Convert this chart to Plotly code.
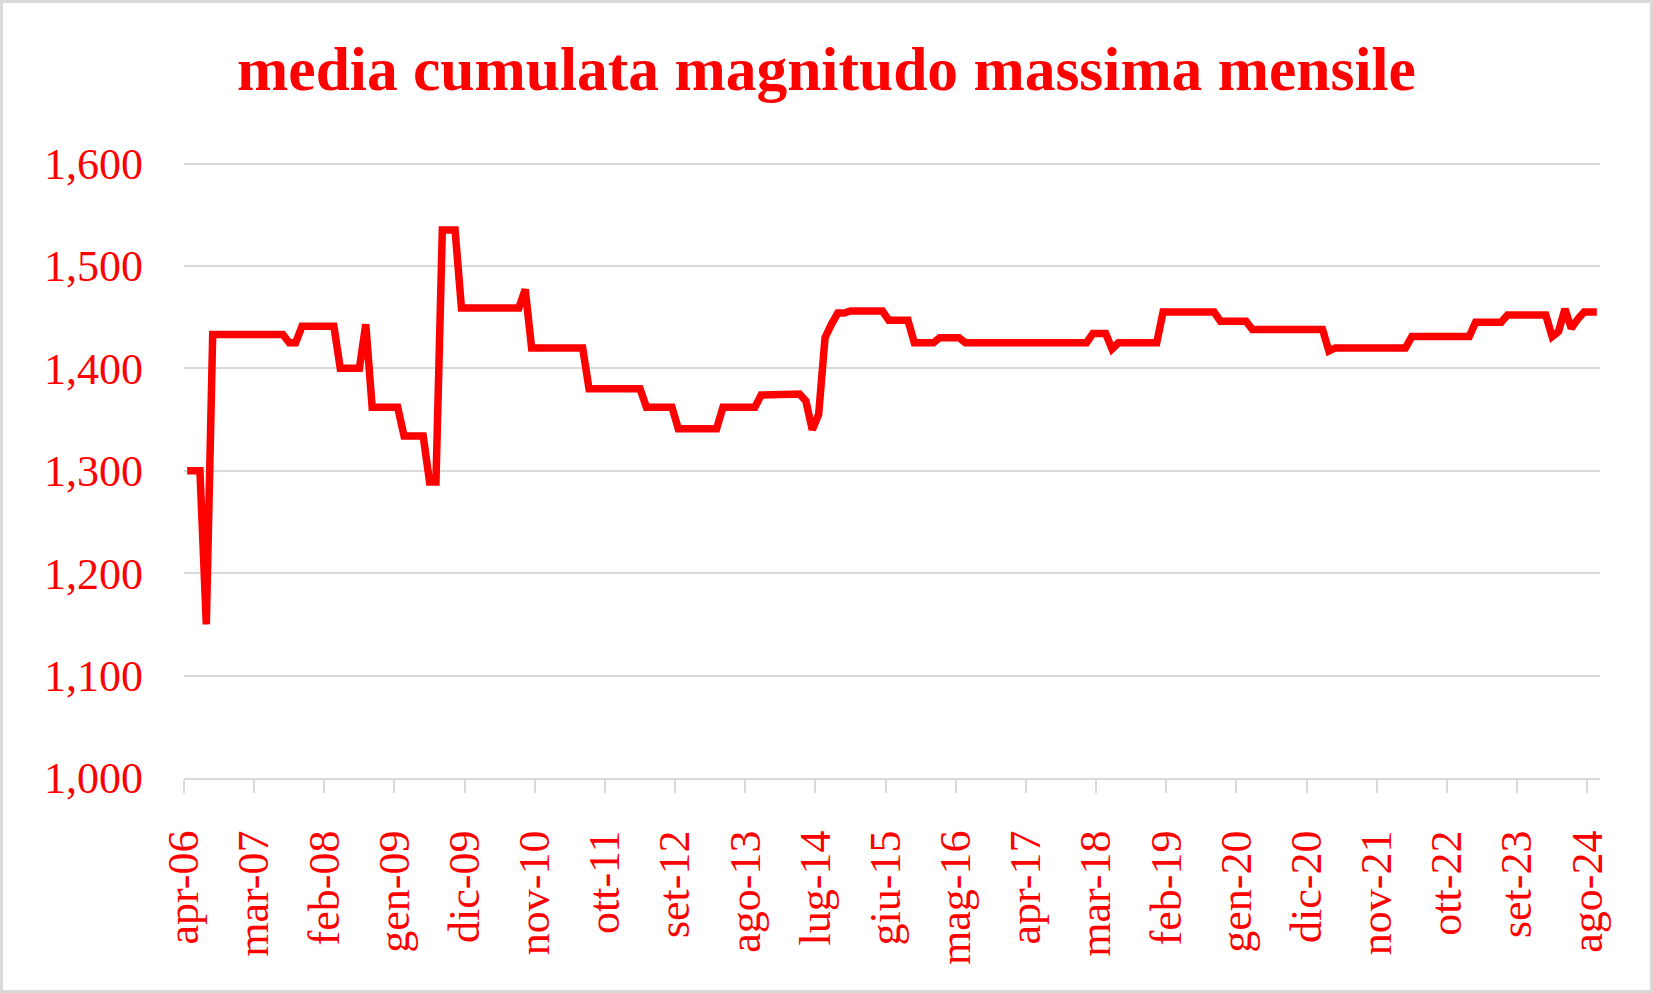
import plotly.graph_objects as go

# Month tags, from apr-06 to set-24 (one value per month)
mesi = ['gen', 'feb', 'mar', 'apr', 'mag', 'giu', 'lug', 'ago', 'set', 'ott', 'nov', 'dic']
month_labels = [f"{mesi[(3 + i) % 12]}-{(2006 + (3 + i) // 12) % 100:02d}" for i in range(222)]

# Cumulative mean of monthly maximum magnitude (year by year)
values = [
    1.300, 1.300, 1.300, 1.150, 1.433, 1.433, 1.433, 1.433, 1.433,                      # 2006 apr-dic
    1.433, 1.433, 1.433, 1.433, 1.433, 1.433, 1.433, 1.425, 1.425, 1.441, 1.441, 1.441,  # 2007
    1.441, 1.441, 1.441, 1.400, 1.400, 1.400, 1.400, 1.443, 1.362, 1.362, 1.362, 1.362,  # 2008
    1.362, 1.334, 1.334, 1.334, 1.334, 1.289, 1.289, 1.535, 1.535, 1.535, 1.459, 1.459,  # 2009
    1.459, 1.459, 1.459, 1.459, 1.459, 1.459, 1.459, 1.459, 1.477, 1.420, 1.420, 1.420,  # 2010
    1.420, 1.420, 1.420, 1.420, 1.420, 1.420, 1.380, 1.380, 1.380, 1.380, 1.380, 1.380,  # 2011
    1.380, 1.380, 1.380, 1.362, 1.362, 1.362, 1.362, 1.362, 1.341, 1.341, 1.341, 1.341,  # 2012
    1.341, 1.341, 1.341, 1.362, 1.362, 1.362, 1.362, 1.362, 1.362, 1.374, 1.374, 1.374,  # 2013
    1.374, 1.375, 1.375, 1.375, 1.368, 1.340, 1.355, 1.430, 1.443, 1.454, 1.454, 1.456,  # 2014
    1.456, 1.456, 1.456, 1.456, 1.456, 1.447, 1.447, 1.447, 1.447, 1.425, 1.425, 1.425,  # 2015
    1.425, 1.430, 1.430, 1.430, 1.430, 1.425, 1.425, 1.425, 1.425, 1.425, 1.425, 1.425,  # 2016
    1.425, 1.425, 1.425, 1.425, 1.425, 1.425, 1.425, 1.425, 1.425, 1.425, 1.425, 1.425,  # 2017
    1.425, 1.434, 1.434, 1.434, 1.419, 1.425, 1.425, 1.425, 1.425, 1.425, 1.425, 1.425,  # 2018
    1.455, 1.455, 1.455, 1.455, 1.455, 1.455, 1.455, 1.455, 1.455, 1.446, 1.446, 1.446,  # 2019
    1.446, 1.446, 1.438, 1.438, 1.438, 1.438, 1.438, 1.438, 1.438, 1.438, 1.438, 1.438,  # 2020
    1.438, 1.438, 1.417, 1.420, 1.420, 1.420, 1.420, 1.420, 1.420, 1.420, 1.420, 1.420,  # 2021
    1.420, 1.420, 1.420, 1.431, 1.431, 1.431, 1.431, 1.431, 1.431, 1.431, 1.431, 1.431,  # 2022
    1.431, 1.445, 1.445, 1.445, 1.445, 1.445, 1.452, 1.452, 1.452, 1.452, 1.452, 1.452,  # 2023
    1.452, 1.431, 1.436, 1.458, 1.439, 1.448, 1.455, 1.455, 1.455,                      # 2024 gen-set
]

y_ticks = [1.0, 1.1, 1.2, 1.3, 1.4, 1.5, 1.6]
y_ticktext = [f"{v:.3f}".replace('.', ',') for v in y_ticks]

# one labelled tick every 11 months, on the left boundary of the month
tick_idx = list(range(0, len(values), 11))
x_tickvals = [i - 0.5 for i in tick_idx]
x_ticktext = [month_labels[i] for i in tick_idx]

RED = '#ff0000'
GREY = '#d9d9d9'
FONT = 'Liberation Serif'

W, H = 1653, 993
ML, MR, MT, MB = 184, 53, 162, 215
pw, ph = W - ML - MR, H - MT - MB

fig = go.Figure()
fig.add_trace(go.Scatter(
    x=list(range(len(values))),
    y=values,
    mode='lines',
    line=dict(color=RED, width=7.5),
    hoverinfo='y',
    showlegend=False
))

# outer chart border
fig.add_shape(
    type='rect', xref='paper', yref='paper',
    x0=(1.5 - ML) / pw, x1=(W - 1.5 - ML) / pw,
    y0=-(MB - 1.5) / ph, y1=1 + (MT - 1.5) / ph,
    line=dict(color=GREY, width=3), layer='below'
)

fig.update_layout(
    width=W, height=H,
    margin=dict(l=ML, r=MR, t=MT, b=MB, autoexpand=False),
    paper_bgcolor='white',
    plot_bgcolor='white',
    title=dict(
        text='<b>media cumulata magnitudo massima mensile</b>',
        font=dict(family=FONT, size=61.5, color=RED),
        x=0.5, xanchor='center',
        y=1 - 68 / H, yanchor='middle', yref='container'
    ),
    xaxis=dict(
        range=[-0.5, len(values) - 0.5],
        tickmode='array', tickvals=x_tickvals, ticktext=x_ticktext,
        tickangle=-90,
        ticks='outside', ticklen=13, tickwidth=2, tickcolor=GREY,
        ticklabelstandoff=20,
        showline=True, linecolor=GREY, linewidth=2,
        showgrid=False, zeroline=False,
        tickfont=dict(family=FONT, size=44, color=RED)
    ),
    yaxis=dict(
        range=[1.0, 1.6015],
        tickmode='array', tickvals=y_ticks, ticktext=y_ticktext,
        showgrid=True, gridcolor=GREY, gridwidth=2,
        zeroline=False, showline=False,
        ticks='', ticklabelstandoff=40,
        tickfont=dict(family=FONT, size=44, color=RED)
    ),
)

# page has a default 8px body margin; drop it so the chart fills the window exactly
fig.write_html("out.html", config={'displayModeBar': False},
               post_script="document.body.style.margin='0';")
